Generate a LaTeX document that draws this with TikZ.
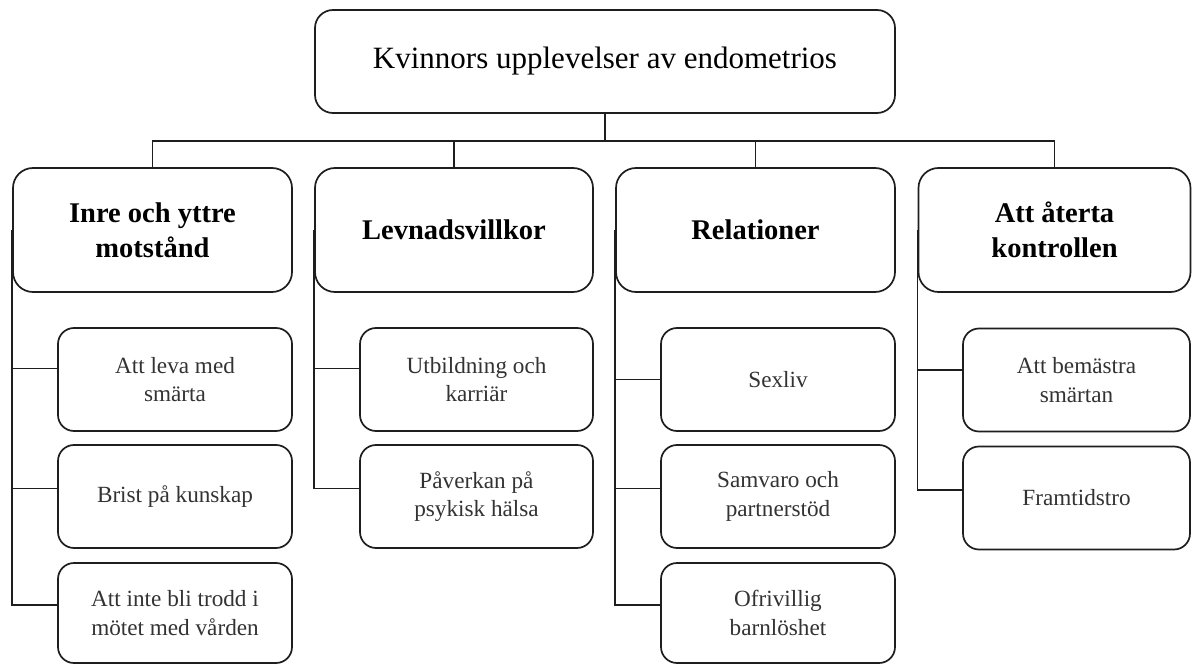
\documentclass[tikz,border=0pt]{standalone}
\usepackage{fontspec}
\setmainfont{Liberation Serif}
\definecolor{ln}{HTML}{1E1E1E}
\definecolor{subtxt}{HTML}{333333}
\tikzset{
  basebox/.style={draw=ln, line width=1.7pt, inner sep=0pt, align=center, fill=white},
  topbox/.style={basebox, rounded corners=18pt, font=\fontsize{31}{36}\selectfont},
  catbox/.style={basebox, rounded corners=20pt, minimum height=124pt, font=\fontsize{28.5}{35}\selectfont\bfseries},
  subbox/.style={basebox, rounded corners=16pt, text=subtxt, font=\fontsize{23.2}{28.5}\selectfont},
  conn/.style={draw=ln, line width=1.6pt}
}
\begin{document}
\begin{tikzpicture}[x=1pt,y=-1pt]
\useasboundingbox (0,0) rectangle (1192,666);
\fill[white] (0,0) rectangle (1192,666);

\node[topbox, minimum width=580pt, minimum height=103pt] (top) at (605,61.5) {Kvinnors upplevelser av endometrios};

\node[catbox, minimum width=279pt] (c1) at (152.5,230) {Inre och yttre\\motstånd};
\node[catbox, minimum width=278pt] (c2) at (454,230) {Levnadsvillkor};
\node[catbox, minimum width=279pt] (c3) at (755.5,230) {Relationer};
\node[catbox, minimum width=272pt] (c4) at (1054.5,230) {Att återta\\kontrollen};

\coordinate (bus) at (605,141);
\draw[conn] (top.south) -- (bus);
\draw[conn] (c1.north) |- (bus) -| (c4.north);
\draw[conn] (c2.north) -- (c2.north |- bus);
\draw[conn] (c3.north) -- (c3.north |- bus);

% column 1
\node[subbox, minimum width=234pt, minimum height=103pt] (s11) at (175,379.5) {Att leva med\\smärta};
\node[subbox, minimum width=234pt, minimum height=103pt] (s12) at (175,496.5) {Brist på kunskap};
\node[subbox, minimum width=234pt, minimum height=100pt] (s13) at (175,613) {Att inte bli trodd i\\mötet med vården};
% column 2
\node[subbox, minimum width=233pt, minimum height=103pt] (s21) at (476.5,379.5) {Utbildning och\\karriär};
\node[subbox, minimum width=233pt, minimum height=103pt] (s22) at (476.5,496.5) {Påverkan på\\psykisk hälsa};
% column 3
\node[subbox, minimum width=234pt, minimum height=103pt] (s31) at (778,379.5) {Sexliv};
\node[subbox, minimum width=234pt, minimum height=103pt] (s32) at (778,496.5) {Samvaro och\\partnerstöd};
\node[subbox, minimum width=234pt, minimum height=100pt] (s33) at (778,613) {Ofrivillig\\barnlöshet};
% column 4
\node[subbox, minimum width=227pt, minimum height=103pt] (s41) at (1076.5,380) {Att bemästra\\smärtan};
\node[subbox, minimum width=227pt, minimum height=103pt] (s42) at (1076.5,498) {Framtidstro};

\draw[conn] (c1.west) |- ([yshift=11pt]s11.west);
\draw[conn] (c1.west) |- ([yshift=8pt]s12.west);
\draw[conn] (c1.west) |- ([yshift=8pt]s13.west);
\draw[conn] (c2.west) |- ([yshift=11pt]s21.west);
\draw[conn] (c2.west) |- ([yshift=8pt]s22.west);
\draw[conn] (c3.west) |- (s31.west);
\draw[conn] (c3.west) |- ([yshift=8pt]s32.west);
\draw[conn] (c3.west) |- ([yshift=8pt]s33.west);
\draw[conn] (c4.west) |- ([yshift=10pt]s41.west);
\draw[conn] (c4.west) |- ([yshift=8pt]s42.west);
\end{tikzpicture}
\end{document}
